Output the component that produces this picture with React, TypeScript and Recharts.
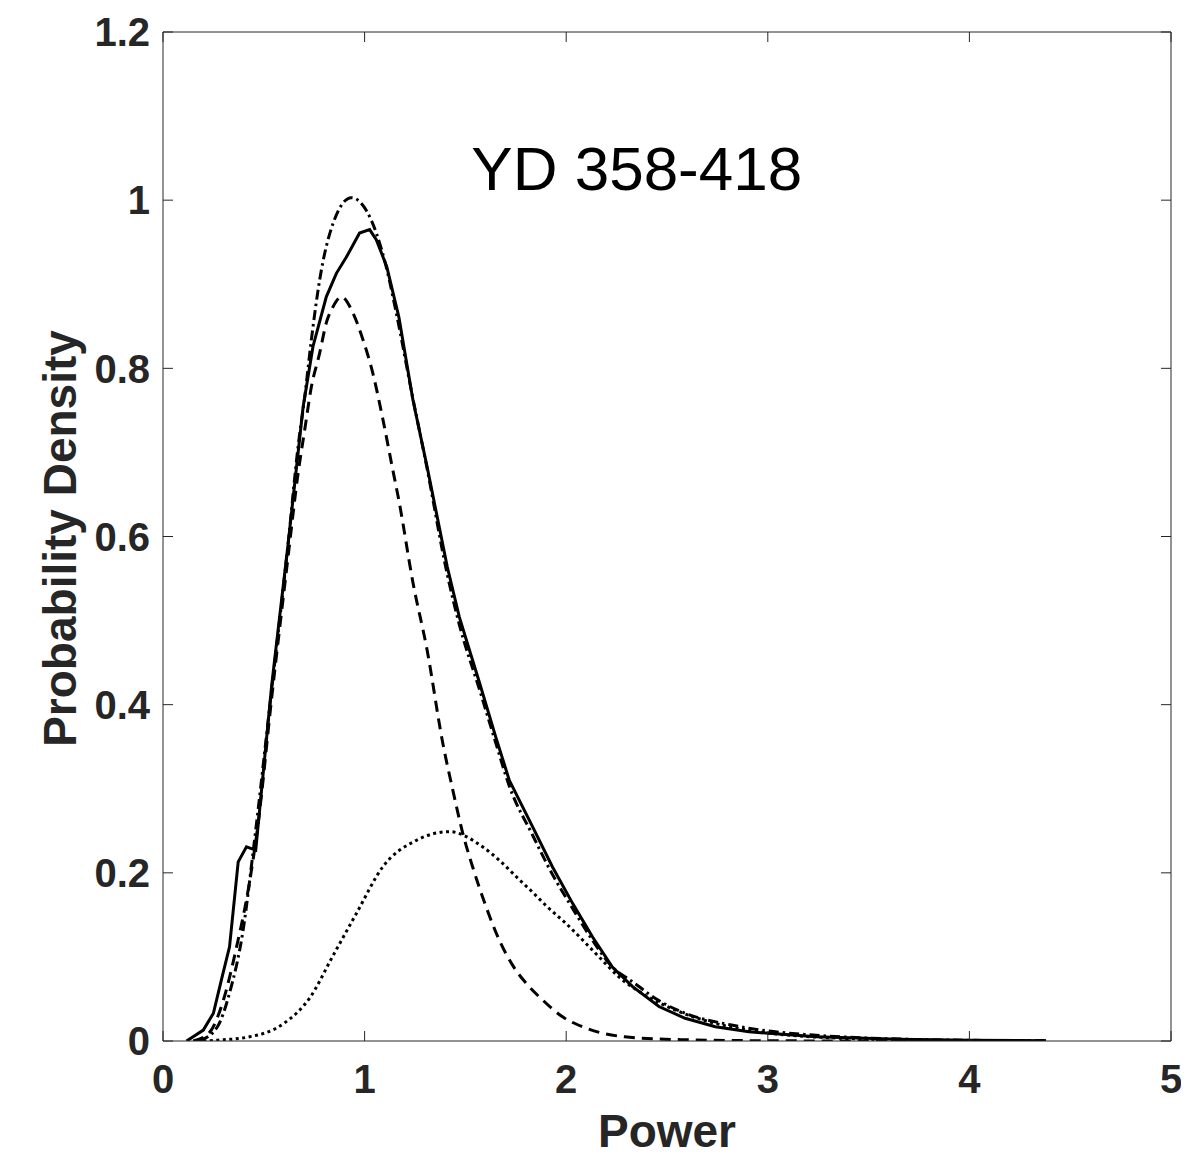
import React from 'react';
import { LineChart, Line, XAxis, YAxis, ReferenceDot, Label } from 'recharts';

// Observed density (solid)
const observedX = [0.117, 0.2, 0.25, 0.29, 0.33, 0.373, 0.414, 0.46, 0.54, 0.62, 0.695, 0.744, 0.81, 0.86, 0.909, 0.975, 1.025, 1.058, 1.11, 1.17, 1.24, 1.31, 1.41, 1.47, 1.57, 1.65, 1.718, 1.833, 1.932, 2.031, 2.13, 2.229, 2.328, 2.46, 2.59, 2.74, 2.906, 3.24, 3.65, 4.0, 4.38];
const observedY = [0, 0.013, 0.033, 0.073, 0.112, 0.213, 0.231, 0.227, 0.425, 0.59, 0.754, 0.826, 0.885, 0.913, 0.932, 0.961, 0.965, 0.953, 0.921, 0.861, 0.762, 0.683, 0.564, 0.504, 0.426, 0.362, 0.31, 0.255, 0.207, 0.164, 0.124, 0.088, 0.065, 0.041, 0.027, 0.017, 0.011, 0.005, 0.002, 0.001, 0.0003];

// Mixture fit (dash-dot)
const mixtureX = [0.18, 0.27, 0.33, 0.4, 0.447, 0.54, 0.62, 0.67, 0.703, 0.736, 0.777, 0.843, 0.934, 1.008, 1.058, 1.107, 1.157, 1.238, 1.305, 1.41, 1.47, 1.57, 1.65, 1.718, 1.833, 1.932, 2.031, 2.13, 2.229, 2.328, 2.46, 2.59, 2.82, 3.0, 3.2, 3.4, 3.7, 4.0, 4.38];
const mixtureY = [0, 0.017, 0.057, 0.136, 0.225, 0.42, 0.59, 0.707, 0.766, 0.834, 0.905, 0.972, 1.003, 0.988, 0.961, 0.921, 0.866, 0.766, 0.687, 0.555, 0.495, 0.418, 0.355, 0.303, 0.245, 0.198, 0.158, 0.12, 0.088, 0.0706, 0.048, 0.033, 0.019, 0.012, 0.0075, 0.0045, 0.002, 0.0008, 0.0002];

// Component 1 (dashed)
const comp1X = [0.15, 0.23, 0.3, 0.365, 0.43, 0.47, 0.54, 0.62, 0.67, 0.703, 0.736, 0.777, 0.81, 0.843, 0.885, 0.942, 0.992, 1.041, 1.091, 1.14, 1.17, 1.24, 1.31, 1.388, 1.437, 1.487, 1.536, 1.602, 1.668, 1.751, 1.8, 1.882, 1.98, 2.08, 2.29, 2.58, 3.0, 3.5, 4.38];
const comp1Y = [0, 0.01, 0.049, 0.112, 0.19, 0.255, 0.41, 0.575, 0.675, 0.727, 0.778, 0.818, 0.854, 0.873, 0.885, 0.866, 0.834, 0.794, 0.739, 0.679, 0.643, 0.545, 0.465, 0.354, 0.299, 0.247, 0.207, 0.16, 0.12, 0.084, 0.069, 0.049, 0.029, 0.017, 0.005, 0.0015, 0.0003, 0, 0];

// Component 2 (dotted)
const comp2X = [0.2, 0.27, 0.43, 0.6, 0.73, 0.84, 0.96, 1.09, 1.26, 1.42, 1.585, 1.668, 1.767, 1.833, 1.9, 1.998, 2.163, 2.26, 2.41, 2.57, 2.74, 2.9, 3.1, 3.3, 3.6, 4.0, 4.38];
const comp2Y = [0, 0.001, 0.005, 0.021, 0.052, 0.1, 0.152, 0.207, 0.239, 0.249, 0.231, 0.215, 0.192, 0.177, 0.161, 0.14, 0.1, 0.0765, 0.052, 0.034, 0.021, 0.013, 0.007, 0.004, 0.0015, 0.0004, 0];

const xTicks = [0, 1, 2, 3, 4, 5];
const yTicks = [0, 0.2, 0.4, 0.6, 0.8, 1, 1.2];
const yTickLabels = ['0', '0.2', '0.4', '0.6', '0.8', '1', '1.2'];
const xTickLabels = ['0', '1', '2', '3', '4', '5'];

const title = 'YD 358-418';
const xTitle = 'Power';
const yTitle = 'Probability Density';

const zip = (xs: number[], ys: number[]) => xs.map((x, i) => ({ x, y: ys[i] }));
const observed = zip(observedX, observedY);
const mixture = zip(mixtureX, mixtureY);
const comp1 = zip(comp1X, comp1Y);
const comp2 = zip(comp2X, comp2Y);

const FONT = '"Liberation Sans", Arial, Helvetica, sans-serif';
const AXIS = '#262626';

const tickStyle = { fontFamily: FONT, fontSize: 40, fontWeight: 700, fill: AXIS };
const noLabel = () => <g />;

export default function App() {
  return (
    <div style={{ width: 1173, height: 1144 }}>
      <LineChart
        width={1173}
        height={1150}
        margin={{ top: 23, right: 9, bottom: 57, left: 75 }}
        style={{ overflow: 'visible' }}
      >
        <XAxis
          xAxisId="b"
          dataKey="x"
          type="number"
          domain={[0, 5]}
          ticks={xTicks}
          allowDataOverflow
          height={60}
          tickSize={-10}
          tickMargin={34}
          tickFormatter={(v: number) => xTickLabels[xTicks.indexOf(v)] ?? String(v)}
          tick={tickStyle}
          stroke={AXIS}
          axisLine={{ stroke: AXIS, strokeWidth: 1 }}
          tickLine={{ stroke: AXIS, strokeWidth: 1 }}
        >
          <Label
            content={(p: any) => {
              const vb = p.viewBox || {};
              return (
                <text
                  x={vb.x + vb.width / 2}
                  y={vb.y + 106}
                  textAnchor="middle"
                  style={{ fontFamily: FONT, fontSize: 46, fontWeight: 700, fill: AXIS }}
                >
                  {xTitle}
                </text>
              );
            }}
          />
        </XAxis>
        <XAxis
          xAxisId="t"
          orientation="top"
          dataKey="x"
          type="number"
          domain={[0, 5]}
          ticks={xTicks}
          allowDataOverflow
          height={1}
          tickSize={-10}
          tick={noLabel}
          stroke={AXIS}
          axisLine={{ stroke: AXIS, strokeWidth: 1 }}
          tickLine={{ stroke: AXIS, strokeWidth: 1 }}
        />
        <YAxis
          yAxisId="l"
          type="number"
          domain={[0, 1.2]}
          ticks={yTicks}
          allowDataOverflow
          width={80}
          tickSize={-10}
          tickMargin={23}
          tickFormatter={(v: number) => yTickLabels[yTicks.indexOf(v)] ?? String(v)}
          tick={tickStyle}
          stroke={AXIS}
          axisLine={{ stroke: AXIS, strokeWidth: 1 }}
          tickLine={{ stroke: AXIS, strokeWidth: 1 }}
        >
          <Label
            content={(p: any) => {
              const vb = p.viewBox || {};
              const cx = vb.x - 7;
              const cy = vb.y + vb.height / 2 + 2;
              return (
                <text
                  x={cx}
                  y={cy}
                  textAnchor="middle"
                  transform={`rotate(-90, ${cx}, ${cy})`}
                  style={{ fontFamily: FONT, fontSize: 46, fontWeight: 700, fill: AXIS }}
                >
                  {yTitle}
                </text>
              );
            }}
          />
        </YAxis>
        <YAxis
          yAxisId="r"
          orientation="right"
          type="number"
          domain={[0, 1.2]}
          ticks={yTicks}
          allowDataOverflow
          width={1}
          tickSize={-10}
          tick={noLabel}
          stroke={AXIS}
          axisLine={{ stroke: AXIS, strokeWidth: 1 }}
          tickLine={{ stroke: AXIS, strokeWidth: 1 }}
        />

        <Line
          xAxisId="b"
          yAxisId="l"
          data={comp2}
          dataKey="y"
          type="monotone"
          stroke="#000"
          strokeWidth={3}
          strokeDasharray="3 3.5"
          dot={false}
          activeDot={false}
          isAnimationActive={false}
        />
        <Line
          xAxisId="b"
          yAxisId="l"
          data={comp1}
          dataKey="y"
          type="monotone"
          stroke="#000"
          strokeWidth={3}
          strokeDasharray="11 7"
          dot={false}
          activeDot={false}
          isAnimationActive={false}
        />
        <Line
          xAxisId="b"
          yAxisId="l"
          data={observed}
          dataKey="y"
          type="linear"
          stroke="#000"
          strokeWidth={3}
          dot={false}
          activeDot={false}
          isAnimationActive={false}
        />
        <Line
          xAxisId="b"
          yAxisId="l"
          data={mixture}
          dataKey="y"
          type="monotone"
          stroke="#000"
          strokeWidth={3}
          strokeDasharray="10 4 2.5 4"
          dot={false}
          activeDot={false}
          isAnimationActive={false}
        />
        <ReferenceDot
          xAxisId="b"
          yAxisId="l"
          x={2.35}
          y={1.012}
          r={0}
          fill="none"
          stroke="none"
          label={(p: any) => {
            const vb = p.viewBox || {};
            return (
              <text
                x={vb.x + (vb.width || 0) / 2}
                y={vb.y + (vb.height || 0) / 2}
                textAnchor="middle"
                style={{ fontFamily: FONT, fontSize: 62, fontWeight: 400, fill: '#000' }}
              >
                {title}
              </text>
            );
          }}
        />
      </LineChart>
    </div>
  );
}
